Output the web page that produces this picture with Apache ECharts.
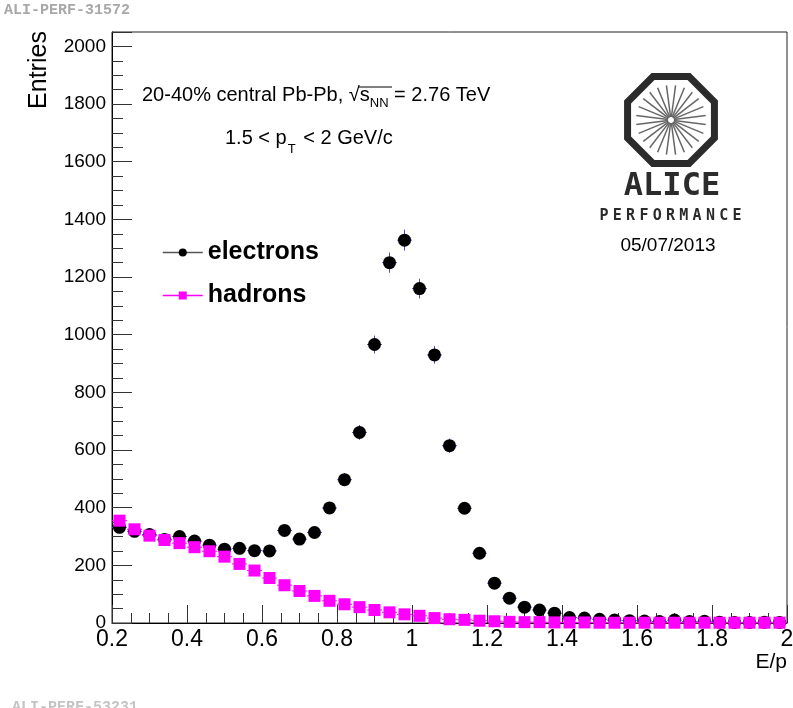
<!DOCTYPE html>
<html>
<head>
<meta charset="utf-8">
<script src="https://cdn.jsdelivr.net/npm/echarts@6/dist/echarts.min.js"></script>
<style>
  html,body{margin:0;padding:0;background:#fff;}
  #chart{width:793px;height:708px;}
</style>
</head>
<body>
<div id="chart"></div>
<script>
// E/p bin centres (bin width 0.04)
var binCenters = [0.22,0.26,0.30,0.34,0.38,0.42,0.46,0.50,0.54,0.58,
                  0.62,0.66,0.70,0.74,0.78,0.82,0.86,0.90,0.94,0.98,
                  1.02,1.06,1.10,1.14,1.18,1.22,1.26,1.30,1.34,1.38,
                  1.42,1.46,1.50,1.54,1.58,1.62,1.66,1.70,1.74,1.78,
                  1.82,1.86,1.90,1.94,1.98];
// entries per bin
var electrons = [332,318,307,290,300,284,270,256,259,251,
                 250,321,291,314,399,497,661,966,1250,1328,
                 1160,930,615,398,242,138,86,55,45,34,
                 19,17,13,10,8,7,5,10,5,6,
                 3,2,2,3,2];
var hadrons = [355,325,303,288,277,263,249,230,205,182,
               156,131,111,94,77,65,55,45,37,30,
               25,17,13,11,8,6,4,3,3,2,
               2,2,1,1,1,1,1,1,1,1,
               1,1,1,1,1];
var binHalfWidth = 0.02;

var chart = echarts.init(document.getElementById('chart'));

// [x, y] pairs for the markers
function points(vals) {
    return binCenters.map(function (x, i) { return [x, vals[i]]; });
}
// [x, y, stat. error] for the error bars
function errRows(vals) {
    return binCenters.map(function (x, i) { return [x, vals[i], Math.sqrt(vals[i])]; });
}
function errorBars(color) {
    return function (params, api) {
        var x = api.value(0), y = api.value(1), e = api.value(2);
        var l = api.coord([x - binHalfWidth, y]);
        var r = api.coord([x + binHalfWidth, y]);
        var t = api.coord([x, y + e]);
        var b = api.coord([x, Math.max(y - e, 0)]);
        return {
            type: 'group',
            children: [
                {type: 'line', shape: {x1: l[0], y1: l[1], x2: r[0], y2: r[1]}, style: {stroke: color, lineWidth: 1}},
                {type: 'line', shape: {x1: t[0], y1: t[1], x2: b[0], y2: b[1]}, style: {stroke: color, lineWidth: 1}}
            ]
        };
    };
}

// ALICE logo pieces
var cx = 671, cy = 120;
var logo = [];
var octPts = [];
for (var k = 0; k < 8; k++) {
    var a = Math.PI / 8 + k * Math.PI / 4;
    octPts.push([cx + 47 * Math.cos(a), cy + 47 * Math.sin(a)]);
}
logo.push({type: 'polygon', shape: {points: octPts}, style: {fill: 'none', stroke: '#2b2b2b', lineWidth: 7}});
for (var s = 0; s < 24; s++) {
    var b = s * Math.PI / 12 + Math.PI / 24;
    logo.push({type: 'line', shape: {x1: cx + 3 * Math.cos(b), y1: cy + 3 * Math.sin(b), x2: cx + 35 * Math.cos(b), y2: cy + 35 * Math.sin(b)},
               style: {stroke: '#666', lineWidth: 1.5}});
}
logo.push({type: 'text', x: 672, y: 187, style: {text: 'ALICE', font: 'bold 32px "DejaVu Sans Mono"', fill: '#2b2b2b', align: 'center', verticalAlign: 'middle'}});
'PERFORMANCE'.split('').forEach(function (ch, i) {
    logo.push({type: 'text', x: 604 + i * 13.3, y: 216, style: {text: ch, font: 'bold 15px "DejaVu Sans Mono"', fill: '#2b2b2b', align: 'center', verticalAlign: 'middle'}});
});
logo.push({type: 'text', x: 668, y: 246, style: {text: '05/07/2013', font: '19px "Liberation Sans"', fill: '#000', align: 'center', verticalAlign: 'middle'}});

var txt = {fontSize: 20, fontFamily: 'Liberation Sans', lineHeight: 22, verticalAlign: 'top', color: '#000'};
var sub = {fontSize: 13, fontFamily: 'Liberation Sans', lineHeight: 13, verticalAlign: 'top', color: '#000'};

var option = {
    animation: false,
    textStyle: {fontFamily: 'Liberation Sans'},
    grid: {left: 112, right: 6, top: 32, bottom: 85, show: true, borderColor: '#222', borderWidth: 1,
           containLabel: false, outerBoundsMode: 'none'},
    legend: {
        orient: 'vertical', left: 157, top: 235, itemWidth: 40, itemHeight: 10, itemGap: 18,
        selectedMode: false,
        textStyle: {fontSize: 25, fontWeight: 'bold', color: '#000', fontFamily: 'Liberation Sans'},
        data: [
            {name: 'electrons', lineStyle: {color: '#555', width: 1.5, opacity: 1}},
            {name: 'hadrons', lineStyle: {color: '#ff00ff', width: 1.5, opacity: 1}}
        ]
    },
    xAxis: {
        type: 'value', min: 0.2, max: 2, interval: 0.2,
        axisLine: {lineStyle: {color: '#000', width: 1}},
        axisTick: {inside: true, length: 18, lineStyle: {color: '#333'}},
        minorTick: {show: true, splitNumber: 4, length: 10, lineStyle: {color: '#333'}},
        splitLine: {show: false},
        axisLabel: {fontSize: 23, color: '#000', margin: 5}
    },
    yAxis: {
        type: 'value', min: 0, max: 2050, interval: 200,
        axisLine: {show: true, lineStyle: {color: '#000', width: 1}},
        axisTick: {inside: true, length: 20, lineStyle: {color: '#333'}},
        minorTick: {show: true, splitNumber: 4, length: 11, lineStyle: {color: '#333'}},
        splitLine: {show: false},
        axisLabel: {fontSize: 19, color: '#000', margin: 6,
            formatter: function (v) { return v % 200 === 0 ? String(v) : ''; }}
    },
    series: [
        {name: 'e_err', type: 'custom', renderItem: errorBars('#4f4fd6'), data: errRows(electrons), z: 2, silent: true},
        {name: 'electrons', type: 'line', data: points(electrons), symbol: 'circle', symbolSize: 13,
         itemStyle: {color: '#000'}, lineStyle: {opacity: 0}, z: 3, silent: true},
        {name: 'h_err', type: 'custom', renderItem: errorBars('#ff00ff'), data: errRows(hadrons), z: 4, silent: true},
        {name: 'hadrons', type: 'line', data: points(hadrons), symbol: 'rect', symbolSize: 12,
         itemStyle: {color: '#ff00ff'}, lineStyle: {opacity: 0}, z: 5, silent: true}
    ],
    graphic: [
        {type: 'text', left: 4, top: 3, style: {text: 'ALI-PERF-31572', font: 'bold 15px "Liberation Mono"', fill: '#a8a8a8'}},
        {type: 'text', left: 12, top: 700, style: {text: 'ALI-PERF-53231', font: 'bold 15px "Liberation Mono"', fill: '#c4c4c4'}},
        {type: 'text', x: 39, y: 70, rotation: Math.PI / 2,
         style: {text: 'Entries', font: '25px "Liberation Sans"', fill: '#000', align: 'center', verticalAlign: 'middle'}},
        {type: 'text', x: 787, y: 662, style: {text: 'E/p', font: '21px "Liberation Sans"', fill: '#000', align: 'right', verticalAlign: 'middle'}},
        {type: 'text', left: 142, top: 85, style: {
            text: '{t|20-40% central Pb-Pb, }{t|√}{t|s}{s|NN}{t| = 2.76 TeV}',
            rich: {t: txt, s: echarts.util.extend({padding: [12, 0, 0, 0]}, sub)}
        }},
        {type: 'line', shape: {x1: 359, y1: 87, x2: 392, y2: 87}, style: {stroke: '#000', lineWidth: 1}},
        {type: 'text', left: 225, top: 128, style: {
            text: '{t|1.5 < p}{s|T}{t| < 2 GeV/c}',
            rich: {t: txt, s: echarts.util.extend({padding: [15, 2, 0, 1]}, sub)}
        }},
        {type: 'group', children: logo}
    ]
};
chart.setOption(option);
</script>
</body>
</html>
